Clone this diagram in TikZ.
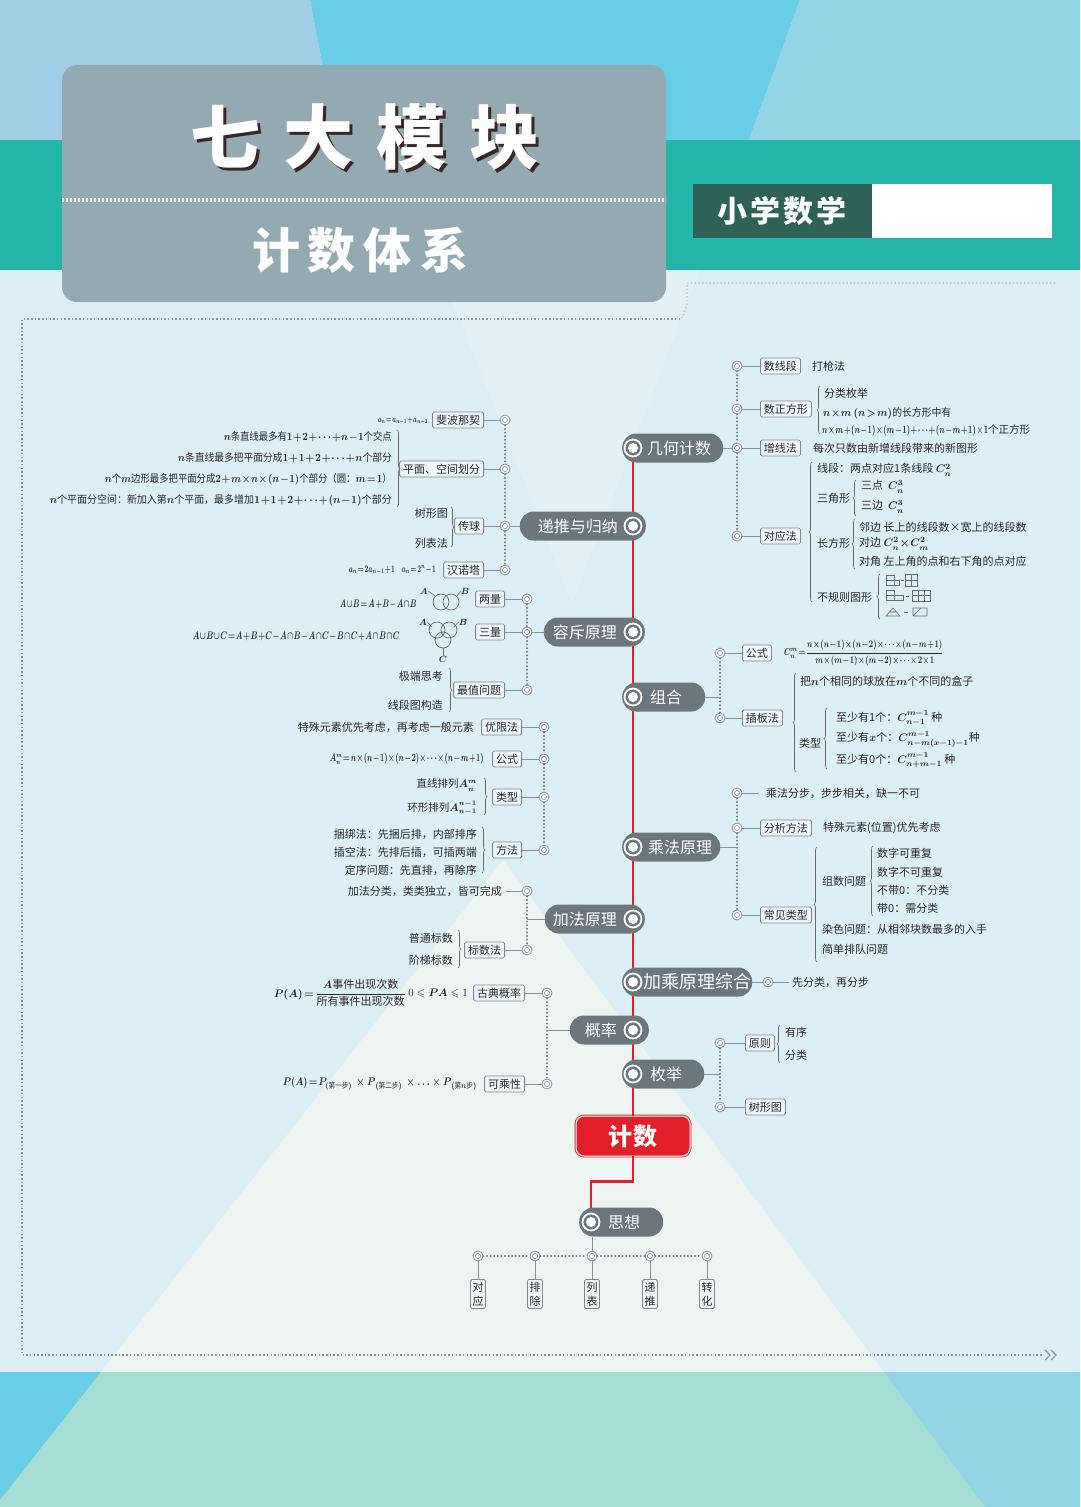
\documentclass[tikz,border=0pt]{standalone}
\usepackage{amsmath,amssymb}
\usepackage{fontspec}
\setmainfont{Noto Sans CJK SC}
\usetikzlibrary{decorations.pathreplacing}
\definecolor{bgc}{HTML}{DCEEF6}
\definecolor{beamc}{HTML}{EDF5F3}
\definecolor{mintc}{HTML}{A6DDD5}
\definecolor{pillc}{HTML}{6B777D}
\definecolor{redc}{HTML}{E3202A}
\definecolor{tealc}{HTML}{23B4AA}
\definecolor{lbluec}{HTML}{A1CDE6}
\definecolor{cyanc}{HTML}{68CDE6}
\definecolor{rbluec}{HTML}{93D5E6}
\definecolor{titlec}{HTML}{93AAB2}
\definecolor{dgreenc}{HTML}{2E6257}
\definecolor{ringc}{HTML}{8A9498}
\definecolor{dotc}{HTML}{6E7A80}
\definecolor{txtc}{HTML}{2A2A2A}
\definecolor{lblc}{HTML}{7F898D}
\definecolor{lblfill}{HTML}{EEF6FA}
\definecolor{brcc}{HTML}{6A6A6A}
\definecolor{framec}{HTML}{86939A}
\definecolor{shadowc}{HTML}{3A2626}
\newcommand\brL[3]{\draw[brc] (#1,#3) -- (#1,#2);}
\newcommand\brR[3]{\draw[brc] (#1,#2) -- (#1,#3);}
\newcommand\fitw[2]{\resizebox{#1}{\height}{#2}}
\begin{document}
\begin{tikzpicture}[x=1pt,y=-1pt,
  lbl/.style={draw=lblc, line width=0.8pt, fill=lblfill, rounded corners=1.5pt, inner xsep=3.5pt, inner ysep=2pt, font=\fontsize{11}{12}\selectfont, text=txtc, minimum height=16pt},
  txt/.style={inner sep=0pt, font=\fontsize{11}{12}\selectfont\boldmath, text=txtc},
  stxt/.style={inner sep=0pt, font=\fontsize{9.5}{11}\selectfont\boldmath, text=txtc},
  ring/.style={circle, draw=ringc, line width=0.8pt, fill=white, minimum size=10pt, inner sep=0pt, path picture={\draw[ringc, line width=0.6pt] (path picture bounding box.center) circle (2.6pt);}},
  conn/.style={draw=ringc, line width=0.9pt},
  dots/.style={draw=dotc, line width=2.2pt, line cap=round, dash pattern=on 0pt off 3.6pt},
  fdots/.style={line width=2.2pt, dash pattern=on 1.5pt off 2.2pt},
  pill/.style={fill=pillc, rounded corners=14pt, minimum height=29pt, inner sep=0pt},
  ptxt/.style={inner sep=0pt, font=\fontsize{16}{17}\selectfont, text=white},
  icon/.style={circle, draw=white, line width=1.8pt, fill=pillc, minimum size=17pt, inner sep=0pt, path picture={\fill[white] (path picture bounding box.center) circle (5pt);}},
  brc/.style={decorate, decoration={brace, amplitude=3pt}, draw=brcc, line width=0.6pt},
  shp/.style={draw=brcc, line width=0.6pt},
  vbox/.style={lbl, inner xsep=2pt, inner ysep=2.5pt, align=center, font=\fontsize{11}{14}\selectfont},
]
\useasboundingbox (0,0) rectangle (1080,1507);
% ---------------- background
\fill[bgc] (0,0) rectangle (1080,1507);
\fill[lbluec] (0,0) -- (310,0) -- (337,140) -- (0,140) -- cycle;
\fill[cyanc] (310,0) -- (800,0) -- (749,140) -- (337,140) -- cycle;
\fill[rbluec] (800,0) -- (1080,0) -- (1080,140) -- (749,140) -- cycle;
\fill[tealc] (0,140) rectangle (1080,270);
\fill[white, opacity=0.22] (440,270) -- (700,270) -- (572,603) -- cycle;
\fill[beamc] (503,860) -- (884,1372) -- (101,1372) -- cycle;
\fill[cyanc] (0,1372) rectangle (1080,1507);
\fill[rbluec] (884,1372) -- (1080,1372) -- (1080,1507) -- (985,1507) -- cycle;
\fill[mintc] (101,1372) -- (884,1372) -- (985,1507) -- (0,1507) -- (0,1500) -- cycle;
% ---------------- title
\fill[titlec, rounded corners=15pt] (62,65) rectangle (666,302);
\draw[white, line width=3.5pt, dash pattern=on 2.2pt off 1.8pt] (62,200) -- (666,200);
\node[font=\fontsize{70}{72}\selectfont\bfseries, text=shadowc] (t1s) at (368,140) {七\hspace{23pt}大\hspace{23pt}模\hspace{23pt}块};
\node[font=\fontsize{70}{72}\selectfont\bfseries, text=white] (t1) at (365,137) {七\hspace{23pt}大\hspace{23pt}模\hspace{23pt}块};
\node[font=\fontsize{48}{50}\selectfont\bfseries, text=white] (t2) at (360,250) {计\hspace{8pt}数\hspace{8pt}体\hspace{8pt}系};
\fill[dgreenc] (693,184) rectangle (872,238);
\fill[white] (872,184) rectangle (1052,238);
\node[font=\fontsize{30}{32}\selectfont\bfseries, text=white] (t3) at (782,211) {小\hspace{3pt}学\hspace{3pt}数\hspace{3pt}学};
% ---------------- frame
\draw[fdots, draw=framec!45!white] (1055,283) -- (687,283) -- (687,305) -- (682,318);
\draw[fdots, draw=framec] (680,319) -- (22,319) -- (22,1355) -- (1042,1355);
\draw[framec, line width=1.1pt] (1045,1350) -- (1050,1355) -- (1045,1360) (1051,1350) -- (1056,1355) -- (1051,1360);
% ---------------- trunk
\node[fill=redc, draw=redc, double=white, double distance=1pt, line width=0.9pt, rounded corners=8pt, minimum width=114pt, minimum height=40pt, font=\fontsize{24}{26}\selectfont\bfseries, text=white] (jishu) at (633,1136) {计\hspace{2pt}数};
\coordinate (ttop) at (633,448);
\coordinate (cSx) at (591,1222);
\draw[redc, line width=2.2pt] (ttop) -- (jishu.north);
\draw[redc, line width=2.2pt] (jishu.south) -- ++(0,25) -| (cSx);
% ================= 几何计数
\node[pill, minimum width=101pt, anchor=west] (pGeo) at (622,448) {};
\node[icon] (iGeo) at (633,448) {};
\node[ptxt, anchor=west] (tGeo) at (647,448) {几何计数};
\node[ring] (g0) at (737,366) {};
\node[ring] (g1) at (737,409) {};
\node[ring] (g2) at (737,448) {};
\node[ring] (g3) at (737,536) {};
\draw[dots] (g0) -- (g1); \draw[dots] (g1) -- (g2); \draw[dots] (g2) -- (g3);
\draw[conn] (pGeo.east) -- (g2);
\node[lbl, anchor=west] (sxd) at (760,366) {数线段};
\node[lbl, anchor=west] (szf) at (760,409) {数正方形};
\node[lbl, anchor=west] (zxf) at (760,448) {增线法};
\node[lbl, anchor=west] (dyf) at (760,536) {对应法};
\draw[conn] (g0) -- (sxd); \draw[conn] (g1) -- (szf); \draw[conn] (g2) -- (zxf); \draw[conn] (g3) -- (dyf);
\node[txt, anchor=west] (a1) at (812,366) {打枪法};
\brL{820}{386}{434}
\node[txt, anchor=west] (a2) at (824,393) {分类枚举};
\node[txt, anchor=west, font=\fontsize{10.5}{12}\selectfont\boldmath] (a3) at (823,413) {\fitw{128pt}{$n\!\times\! m\,(n\!>\!m)$的长方形中有}};
\node[stxt, anchor=west, font=\fontsize{10.5}{12}\selectfont\boldmath] (a4) at (822,430) {\fitw{166pt}{$n\!\times\! m\!+\!(n\!-\!1)\!\times\!(m\!-\!1)\!+\!\cdots\!+\!(n\!-\!m\!+\!1)\!\times\!1$}个正方形};
\node[txt, anchor=west] (a5) at (813,448) {每次只数由新增线段带来的新图形};
\brL{812}{462}{602}
\node[txt, anchor=west] (a6) at (817,470) {线段：两点对应1条线段 $C_n^2$};
\node[txt, anchor=west] (a7) at (817,498) {三角形};
\brL{856}{480}{516}
\node[txt, anchor=west] (a8) at (861,487) {三点\ \ $C_n^3$};
\node[txt, anchor=west] (a9) at (861,507) {三边\ \ $C_n^3$};
\node[txt, anchor=west] (a10) at (817,543) {长方形};
\brL{855}{519}{569}
\node[txt, anchor=west] (a11) at (859,527) {邻边\ 长上的线段数×宽上的线段数};
\node[txt, anchor=west] (a12) at (859,544) {对边\ $C_n^2\!\times\! C_m^2$};
\node[txt, anchor=west] (a13) at (859,561) {对角\ 左上角的点和右下角的点对应};
\node[txt, anchor=west] (a14) at (817,597) {不规则图形};
\brL{880}{574}{619}
% irregular shapes
\draw[shp] (886,575) rectangle (894,585) (886,580) -- (894,580) (894,580) rectangle (899,585);
\draw[shp] (901,580) -- (904,580);
\draw[shp] (905,574) rectangle (917,586) (911,574) -- (911,586) (905,580) -- (917,580);
\draw[shp] (886,590) rectangle (894,600) (886,595) -- (894,595) (894,595) rectangle (903,600);
\draw[shp] (906,596) -- (909,596);
\draw[shp] (912,590) rectangle (930,601) (918,590) -- (918,601) (924,590) -- (924,601) (912,595.5) -- (930,595.5);
\draw[shp] (886,616) -- (893,608) -- (900,616) -- cycle (889,612) -- (897,612);
\draw[shp] (904,612) -- (908,612);
\draw[shp] (913,608) rectangle (927,616) (913,616) -- (921,608);
% ================= 递推与归纳
\node[pill, minimum width=126pt, anchor=east] (pDt) at (646,526) {};
\node[icon] (iDt) at (633,526) {};
\node[ptxt, anchor=east] (tDt) at (618,526) {递推与归纳};
\node[ring] (r0) at (505,420) {};
\node[ring] (r1) at (505,469) {};
\node[ring] (r2) at (505,526) {};
\node[ring] (r3) at (505,570) {};
\draw[dots] (r0) -- (r1); \draw[dots] (r1) -- (r2); \draw[dots] (r2) -- (r3);
\draw[conn] (pDt.west) -- (r2);
\node[lbl, anchor=east] (fb) at (484,420) {斐波那契};
\node[lbl, anchor=east] (pm) at (484,469) {平面、空间划分};
\node[lbl, anchor=east] (cq) at (484,526) {传球};
\node[lbl, anchor=east] (hnt) at (484,570) {汉诺塔};
\draw[conn] (r0) -- (fb); \draw[conn] (r1) -- (pm); \draw[conn] (r2) -- (cq); \draw[conn] (r3) -- (hnt);
\node[stxt, anchor=east, font=\fontsize{9}{10}\selectfont\boldmath] (b1) at (428,421) {\fitw{50pt}{$a_n\!=\!a_{n-1}\!+\!a_{n-2}$}};
\brR{397}{430}{507}
\node[txt, anchor=east, font=\fontsize{10.5}{12}\selectfont\boldmath] (b2) at (392,437) {\fitw{168pt}{$n$条直线最多有$1\!+\!2\!+\!\cdots\!+\!n\!-\!1$个交点}};
\node[txt, anchor=east, font=\fontsize{10.5}{12}\selectfont\boldmath] (b3) at (392,458) {\fitw{214pt}{$n$条直线最多把平面分成$1\!+\!1\!+\!2\!+\!\cdots\!+\!n$个部分}};
\node[txt, anchor=east, font=\fontsize{10.5}{12}\selectfont\boldmath] (b4) at (392,479) {\fitw{287pt}{$n$个$m$边形最多把平面分成$2\!+\!m\!\times\! n\!\times\!(n\!-\!1)$个部分（圆：$m\!=\!1$）}};
\node[txt, anchor=east, font=\fontsize{10.5}{12}\selectfont\boldmath] (b5) at (392,500) {\fitw{342pt}{$n$个平面分空间：新加入第$n$个平面，最多增加$1\!+\!1\!+\!2\!+\!\cdots\!+\!(n\!-\!1)$个部分}};
\brR{451}{507}{547}
\node[txt, anchor=east] (b6) at (448,513) {树形图};
\node[txt, anchor=east] (b7) at (448,543) {列表法};
\node[stxt, anchor=east, font=\fontsize{10}{11}\selectfont\boldmath] (b8) at (436,570) {\fitw{87pt}{$a_n\!=\!2a_{n-1}\!+\!1\quad a_n\!=\!2^n\!-\!1$}};
% ================= 容斥原理
\node[pill, minimum width=101pt, anchor=east] (pRc) at (645,632) {};
\node[icon] (iRc) at (633,632) {};
\node[ptxt, anchor=east] (tRc) at (617,632) {容斥原理};
\node[ring] (c0) at (527,599) {};
\node[ring] (c1) at (527,632) {};
\node[ring] (c2) at (527,690) {};
\draw[dots] (c0) -- (c1); \draw[dots] (c1) -- (c2);
\draw[conn] (pRc.west) -- (c1);
\node[lbl, anchor=east] (ll) at (505,599) {两量};
\node[lbl, anchor=east] (sl) at (505,632) {三量};
\node[lbl, anchor=east] (zz) at (505,690) {最值问题};
\draw[conn] (c0) -- (ll); \draw[conn] (c1) -- (sl); \draw[conn] (c2) -- (zz);
\draw[shp, line width=0.7pt] (441,602) circle (8pt) (451,602) circle (8pt);
\node[stxt, font=\fontsize{9}{10}\selectfont\boldmath] (vA) at (424,591) {$A$};
\node[stxt, font=\fontsize{9}{10}\selectfont\boldmath] (vB) at (465,591) {$B$};
\draw[shp] (vA.east) -- (435,596); \draw[shp] (vB.west) -- (457,596);
\node[txt, anchor=east, font=\fontsize{10.5}{11}\selectfont\boldmath] (v1) at (417,604) {\fitw{77pt}{$A\!\cup\! B\!=\!A\!+\!B\!-\!A\!\cap\! B$}};
\draw[shp, line width=0.7pt] (437,630) circle (8pt) (449,630) circle (8pt) (443,640) circle (8pt);
\node[stxt, font=\fontsize{9}{10}\selectfont\boldmath] (vA2) at (423,622) {$A$};
\node[stxt, font=\fontsize{9}{10}\selectfont\boldmath] (vB2) at (463,622) {$B$};
\node[stxt, font=\fontsize{9}{10}\selectfont\boldmath] (vC2) at (443,659) {$C$};
\draw[shp] (vA2.east) -- (432,627); \draw[shp] (vB2.west) -- (454,627); \draw[shp] (vC2.north) -- (443,648);
\node[txt, anchor=east, font=\fontsize{10.5}{11}\selectfont\boldmath] (v2) at (400,636) {\fitw{207pt}{$A\!\cup\! B\!\cup\! C\!=\!A\!+\!B\!+\!C\!-\!A\!\cap\! B\!-\!A\!\cap\! C\!-\!B\!\cap\! C\!+\!A\!\cap\! B\!\cap\! C$}};
\brR{449}{668}{712}
\node[txt, anchor=east] (v3) at (443,676) {极端思考};
\node[txt, anchor=east] (v4) at (443,705) {线段图构造};
% ================= 组合
\node[pill, minimum width=83pt, anchor=west] (pZh) at (622,697) {};
\node[icon] (iZh) at (633,697) {};
\node[ptxt, anchor=west] (tZh) at (650,697) {组合};
\node[ring] (z0) at (720,653) {};
\node[ring] (z1) at (720,718) {};
\coordinate (zc) at (720,697);
\draw[dots] (z0) -- (z1);
\draw[conn] (pZh.east) -- (zc);
\node[lbl, anchor=west] (gs) at (742,653) {公式};
\node[lbl, anchor=west] (cbf) at (742,718) {插板法};
\draw[conn] (z0) -- (gs); \draw[conn] (z1) -- (cbf);
\node[stxt, anchor=west, font=\fontsize{10}{11}\selectfont\boldmath] (d1) at (784,653) {\fitw{159pt}{$C_n^m\!=\!\dfrac{n\!\times\!(n\!-\!1)\!\times\!(n\!-\!2)\!\times\!\cdots\!\times\!(n\!-\!m\!+\!1)}{m\!\times\!(m\!-\!1)\!\times\!(m\!-\!2)\!\times\!\cdots\!\times\!2\!\times\!1}$}};
\brL{796}{673}{772}
\node[txt, anchor=west] (d2) at (800,681) {把$n$个相同的球放在$m$个不同的盒子};
\node[txt, anchor=west] (d3) at (799,743) {类型};
\brL{827}{708}{769}
\node[txt, anchor=west] (d4) at (836,718) {至少有1个：$C_{n-1}^{m-1}$ 种};
\node[txt, anchor=west] (d5) at (836,739) {至少有$x$个：$C_{n-m(x-1)-1}^{m-1}$种};
\node[txt, anchor=west] (d6) at (836,760) {至少有0个：$C_{n+m-1}^{m-1}$ 种};
% ================= 排列 (left)
\node[ring] (e0) at (544,727) {};
\node[ring] (e1) at (544,759) {};
\node[ring] (e2) at (544,797) {};
\node[ring] (e3) at (544,850) {};
\draw[dots] (e0) -- (e1); \draw[dots] (e1) -- (e2); \draw[dots] (e2) -- (e3);
\node[lbl, anchor=east] (yxf) at (522,727) {优限法};
\node[lbl, anchor=east] (gs2) at (522,759) {公式};
\node[lbl, anchor=east] (lx) at (522,797) {类型};
\node[lbl, anchor=east] (ff) at (522,850) {方法};
\draw[conn] (e0) -- (yxf); \draw[conn] (e1) -- (gs2); \draw[conn] (e2) -- (lx); \draw[conn] (e3) -- (ff);
\node[txt, anchor=east] (f1) at (474,727) {特殊元素优先考虑，再考虑一般元素};
\node[txt, anchor=east, font=\fontsize{10.5}{11}\selectfont\boldmath] (f2) at (484,759) {\fitw{154pt}{$A_n^m\!=\!n\!\times\!(n\!-\!1)\!\times\!(n\!-\!2)\!\times\!\cdots\!\times\!(n\!-\!m\!+\!1)$}};
\brR{484}{778}{815}
\node[txt, anchor=east, font=\fontsize{10.5}{12}\selectfont\boldmath] (f3) at (477,785) {直线排列$A_n^m$};
\node[txt, anchor=east, font=\fontsize{10.5}{12}\selectfont\boldmath] (f4) at (477,808) {环形排列$A_{n-1}^{n-1}$};
\brR{482}{827}{873}
\node[txt, anchor=east] (f5) at (477,834) {捆绑法：先捆后排，内部排序};
\node[txt, anchor=east] (f6) at (477,852) {插空法：先排后插，可插两端};
\node[txt, anchor=east] (f7) at (477,870) {定序问题：先直排，再除序};
% ================= 乘法原理
\node[pill, minimum width=98pt, anchor=west] (pCf) at (622,847) {};
\node[icon] (iCf) at (633,847) {};
\node[ptxt, anchor=west] (tCf) at (648,847) {乘法原理};
\node[ring] (m0) at (737,793) {};
\node[ring] (m1) at (737,828) {};
\node[ring] (m2) at (737,915) {};
\coordinate (mc) at (737,847);
\coordinate (m0e) at (759,793);
\draw[dots] (m0) -- (m1); \draw[dots] (m1) -- (m2);
\draw[conn] (pCf.east) -- (mc);
\draw[conn] (m0) -- (m0e);
\node[txt, anchor=west] (h1) at (766,793) {乘法分步，步步相关，缺一不可};
\node[lbl, anchor=west] (fxff) at (760,828) {分析方法};
\node[lbl, anchor=west] (cjlx) at (760,915) {常见类型};
\draw[conn] (m1) -- (fxff); \draw[conn] (m2) -- (cjlx);
\node[txt, anchor=west] (h2) at (823,828) {特殊元素(位置)优先考虑};
\brL{817}{847}{962}
\node[txt, anchor=west] (h3) at (822,881) {组数问题};
\brL{873}{846}{916}
\node[txt, anchor=west] (h4) at (877,853) {数字可重复};
\node[txt, anchor=west] (h5) at (877,872) {数字不可重复};
\node[txt, anchor=west] (h6) at (877,890) {不带0：不分类};
\node[txt, anchor=west] (h7) at (877,908) {带0：需分类};
\node[txt, anchor=west] (h8) at (822,929) {染色问题：从相邻块数最多的入手};
\node[txt, anchor=west] (h9) at (822,949) {简单排队问题};
% ================= 加法原理
\node[pill, minimum width=100pt, anchor=east] (pJf) at (645,919) {};
\node[icon] (iJf) at (633,919) {};
\node[ptxt, anchor=east] (tJf) at (617,919) {加法原理};
\node[ring] (j0) at (527,891) {};
\node[ring] (j1) at (527,950) {};
\coordinate (jc) at (527,919);
\coordinate (j0e) at (506,891);
\draw[dots] (j0) -- (j1);
\draw[conn] (pJf.west) -- (jc);
\draw[conn] (j0) -- (j0e);
\node[txt, anchor=east] (k1) at (502,891) {加法分类，类类独立，皆可完成};
\node[lbl, anchor=east] (bsf) at (505,950) {标数法};
\draw[conn] (j1) -- (bsf);
\brR{458}{930}{968}
\node[txt, anchor=east] (k2) at (453,938) {普通标数};
\node[txt, anchor=east] (k3) at (453,960) {阶梯标数};
% ================= 加乘原理综合
\node[pill, minimum width=130pt, anchor=west] (pJc) at (622,982) {};
\node[icon] (iJc) at (633,982) {};
\node[ptxt, anchor=west, font=\fontsize{18}{19}\selectfont] (tJc) at (643,982) {加乘原理综合};
\node[ring] (q0) at (768,982) {};
\coordinate (q0e) at (789,982);
\draw[conn] (pJc.east) -- (q0);
\draw[conn] (q0) -- (q0e);
\node[txt, anchor=west] (q1) at (792,982) {先分类，再分步};
% ================= 概率
\node[pill, minimum width=79pt, anchor=east] (pGl) at (649,1030) {};
\node[icon] (iGl) at (633,1030) {};
\node[ptxt, anchor=east] (tGl) at (617,1030) {概率};
\node[ring] (l0) at (547,993) {};
\node[ring] (l1) at (547,1084) {};
\coordinate (lc) at (547,1030);
\draw[dots] (l0) -- (l1);
\draw[conn] (pGl.west) -- (lc);
\node[lbl, anchor=east] (gdgl) at (525,993) {古典概率};
\node[lbl, anchor=east] (kcx) at (525,1084) {可乘性};
\draw[conn] (l0) -- (gdgl); \draw[conn] (l1) -- (kcx);
\node[txt, anchor=east, font=\fontsize{11}{12}\selectfont] (n1) at (468,993) {$0\leqslant \boldsymbol{PA}\leqslant 1$};
\node[txt, anchor=east] (n2) at (406,993) {$P(A)\!=\!\dfrac{A\text{事件出现次数}}{\text{所有事件出现次数}}$};
\node[txt, anchor=east, font=\fontsize{11}{12}\selectfont\boldmath] (n3) at (477,1084) {\fitw{194pt}{$P(A)\!=\!P_{(\text{第一步})}\,\times P_{\,(\text{第二步})}\,\times\ldots\times P_{\,(\text{第}n\text{步})}$}};
% ================= 枚举
\node[pill, minimum width=82pt, anchor=west] (pMj) at (622,1074) {};
\node[icon] (iMj) at (633,1074) {};
\node[ptxt, anchor=west] (tMj) at (650,1074) {枚举};
\node[ring] (o0) at (720,1043) {};
\node[ring] (o1) at (720,1107) {};
\coordinate (oc) at (720,1074);
\draw[dots] (o0) -- (o1);
\draw[conn] (pMj.east) -- (oc);
\node[lbl, anchor=west] (yz) at (745,1043) {原则};
\node[lbl, anchor=west] (sxt) at (745,1107) {树形图};
\draw[conn] (o0) -- (yz); \draw[conn] (o1) -- (sxt);
\brL{780}{1025}{1063}
\node[txt, anchor=west] (o2) at (785,1032) {有序};
\node[txt, anchor=west] (o3) at (785,1055) {分类};
% ================= 思想
\node[pill, minimum width=84pt, anchor=west] (pSx) at (579,1222) {};
\node[icon] (iSx) at (cSx) {};
\node[ptxt, anchor=west] (tSx) at (608,1222) {思想};
\node[ring] (s1) at (478,1256) {};
\node[ring] (s2) at (535,1256) {};
\node[ring] (s3) at (592,1256) {};
\node[ring] (s4) at (650,1256) {};
\node[ring] (s5) at (707,1256) {};
\coordinate (sxb) at (592,1236.5);
\draw[conn] (sxb) -- (s3);
\draw[dots] (s1) -- (s2); \draw[dots] (s2) -- (s3); \draw[dots] (s3) -- (s4); \draw[dots] (s4) -- (s5);
\node[vbox, anchor=north] (w1) at (478,1279) {对\\应};
\node[vbox, anchor=north] (w2) at (535,1279) {排\\除};
\node[vbox, anchor=north] (w3) at (592,1279) {列\\表};
\node[vbox, anchor=north] (w4) at (650,1279) {递\\推};
\node[vbox, anchor=north] (w5) at (707,1279) {转\\化};
\draw[conn] (s1) -- (w1); \draw[conn] (s2) -- (w2); \draw[conn] (s3) -- (w3); \draw[conn] (s4) -- (w4); \draw[conn] (s5) -- (w5);
\end{tikzpicture}
\end{document}
